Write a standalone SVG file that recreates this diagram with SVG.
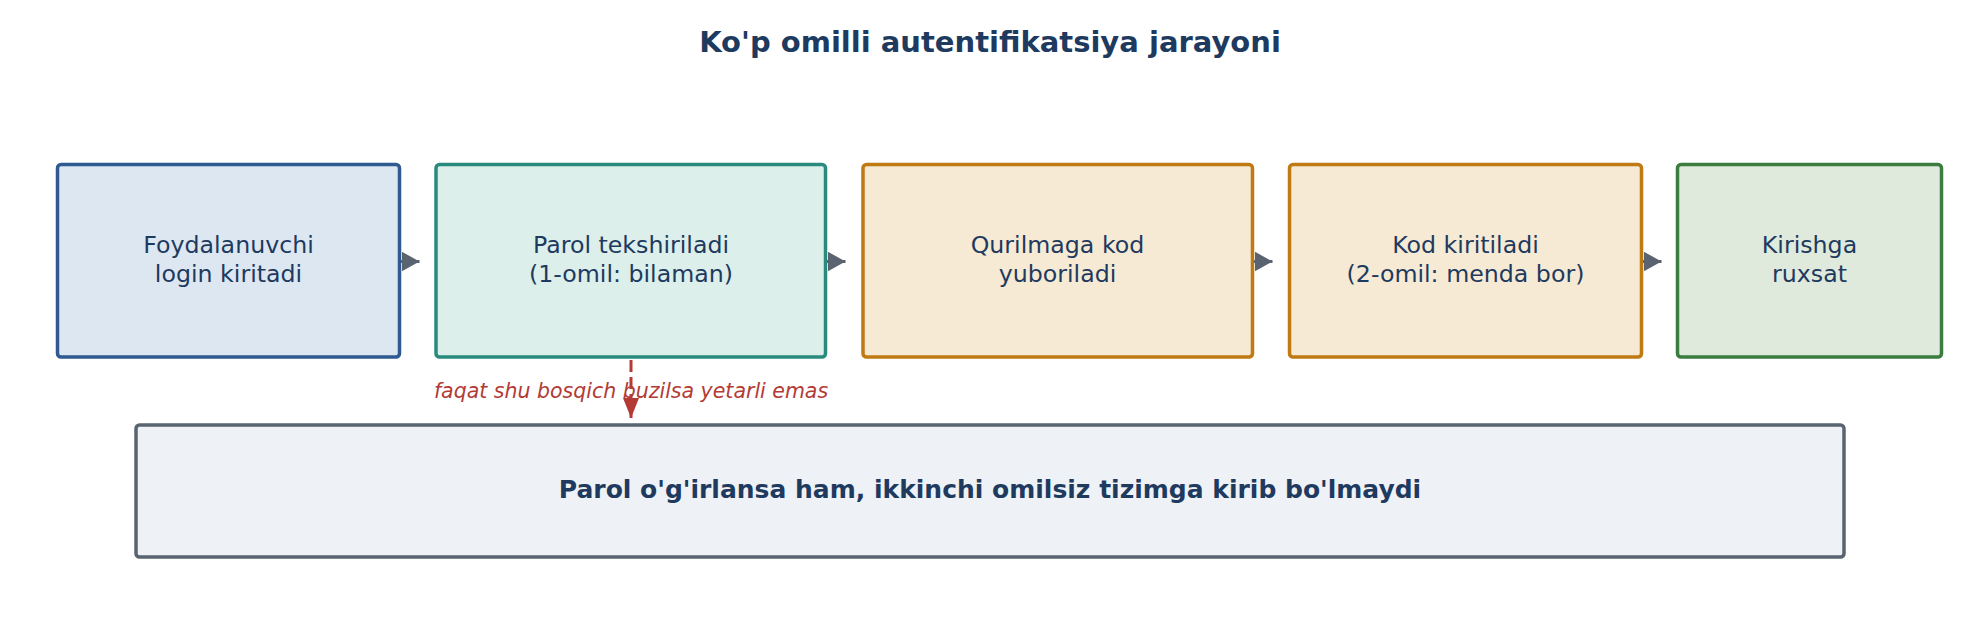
<svg xmlns="http://www.w3.org/2000/svg" width="1979" height="640" viewBox="0 0 1979 640">
<style>
.node{stroke-width:3.5}
.lbl{font-family:"DejaVu Sans",sans-serif;font-size:23.7px;fill:#1e3a5f;text-anchor:middle}
.title{font-family:"DejaVu Sans",sans-serif;font-size:29px;font-weight:bold;fill:#1e3a5f;text-anchor:middle}
.note{font-family:"DejaVu Sans",sans-serif;font-size:25px;font-weight:bold;fill:#1e3a5f;text-anchor:middle}
.warn{font-family:"DejaVu Sans",sans-serif;font-size:20.5px;font-style:italic;fill:#b33a35;text-anchor:middle}
.flow{stroke:#5a6470;stroke-width:3;fill:none}
</style>
<defs>
<marker id="tri" viewBox="0 0 18 20" refX="18" refY="10" markerWidth="18" markerHeight="20" markerUnits="userSpaceOnUse" orient="auto">
<path d="M0,0 L18,10 L0,20 Z" fill="#5a6470"/>
</marker>
<marker id="redtri" viewBox="0 0 16 20" refX="8" refY="20" markerWidth="16" markerHeight="20" markerUnits="userSpaceOnUse" orient="0">
<path d="M0,0 L16,0 L8,20 Z" fill="#b33a35"/>
</marker>
</defs>
<rect width="1979" height="640" fill="#ffffff"/>
<text class="title" x="990" y="52">Ko'p omilli autentifikatsiya jarayoni</text>

<g id="n1">
<rect class="node" x="57.5" y="164.5" width="342" height="192.5" rx="3.5" fill="#dde7f2" stroke="#2e5a8f"/>
<text class="lbl" x="228.5" y="253.3">Foydalanuvchi</text>
<text class="lbl" x="228.5" y="281.7">login kiritadi</text>
</g>
<g id="n2">
<rect class="node" x="436" y="164.5" width="389.5" height="192.5" rx="3.5" fill="#dcefeb" stroke="#2a8a7e"/>
<text class="lbl" x="631" y="253.3">Parol tekshiriladi</text>
<text class="lbl" x="631" y="281.7">(1-omil: bilaman)</text>
</g>
<g id="n3">
<rect class="node" x="863" y="164.5" width="389.5" height="192.5" rx="3.5" fill="#f6ead4" stroke="#c07a14"/>
<text class="lbl" x="1057.5" y="253.3">Qurilmaga kod</text>
<text class="lbl" x="1057.5" y="281.7">yuboriladi</text>
</g>
<g id="n4">
<rect class="node" x="1289.5" y="164.5" width="352" height="192.5" rx="3.5" fill="#f6ead4" stroke="#c07a14"/>
<text class="lbl" x="1465.5" y="253.3">Kod kiritiladi</text>
<text class="lbl" x="1465.5" y="281.7">(2-omil: menda bor)</text>
</g>
<g id="n5">
<rect class="node" x="1677.5" y="164.5" width="264" height="192.5" rx="3.5" fill="#dfeadc" stroke="#3a7d3e"/>
<text class="lbl" x="1809.5" y="253.3">Kirishga</text>
<text class="lbl" x="1809.5" y="281.7">ruxsat</text>
</g>
<g id="note">
<rect class="node" x="136" y="425" width="1708" height="132" rx="3.5" fill="#eef1f6" stroke="#5a6470"/>
<text class="note" x="990" y="498">Parol o'g'irlansa ham, ikkinchi omilsiz tizimga kirib bo'lmaydi</text>
</g>

<g id="connectors">
<line class="flow" x1="401" y1="261.5" x2="419.5" y2="261.5" marker-end="url(#tri)"/>
<line class="flow" x1="827" y1="261.5" x2="845.5" y2="261.5" marker-end="url(#tri)"/>
<line class="flow" x1="1254" y1="261.5" x2="1272.5" y2="261.5" marker-end="url(#tri)"/>
<line class="flow" x1="1643" y1="261.5" x2="1661.5" y2="261.5" marker-end="url(#tri)"/>
<line x1="631" y1="360" x2="631" y2="418" stroke="#b33a35" stroke-width="3" stroke-dasharray="12,5" marker-end="url(#redtri)"/>
<text class="warn" x="631" y="398.3">faqat shu bosqich buzilsa yetarli emas</text>
</g>
</svg>
